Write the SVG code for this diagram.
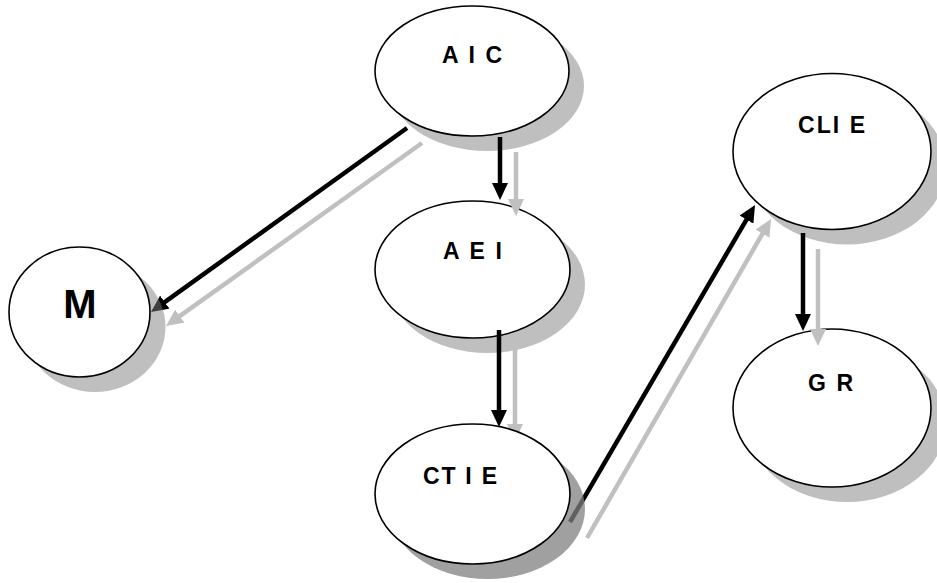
<svg xmlns="http://www.w3.org/2000/svg" width="937" height="583" viewBox="0 0 937 583">
<style>
.sh{fill:#808080;fill-opacity:0.5}
.sh2{fill:#808080;fill-opacity:0.75}
.nd{fill:#fff;stroke:#000;stroke-width:1.6}
.lb{font-family:"Liberation Sans",Arial,sans-serif;font-weight:bold;font-size:23px;fill:#000}
.big{font-size:40px}
.cb{stroke:#000;stroke-width:4.5;fill:none;marker-end:url(#hb)}
.cg{stroke:#c0c0c0;stroke-width:4.5;fill:none;marker-end:url(#hg)}
</style>
<defs>
<marker id="hb" markerUnits="userSpaceOnUse" viewBox="0 0 17 16" markerWidth="17" markerHeight="16" refX="7" refY="8" orient="auto"><path d="M0,0 L17,8 L0,16 Z" fill="#000"/></marker>
<marker id="hg" markerUnits="userSpaceOnUse" viewBox="0 0 17 16" markerWidth="17" markerHeight="16" refX="7" refY="8" orient="auto"><path d="M0,0 L17,8 L0,16 Z" fill="#c0c0c0"/></marker>
</defs>
<rect width="937" height="583" fill="#fff"/>
<g id="AIC">
<ellipse class="sh" cx="487" cy="86" rx="97" ry="65"/>
<ellipse class="nd" cx="472" cy="71" rx="97" ry="65"/>
<text class="lb" x="442" y="63" textLength="60" lengthAdjust="spacing">A I C</text>
</g>
<g id="AEI">
<ellipse class="sh" cx="487.5" cy="284.5" rx="97.5" ry="68.5"/>
<ellipse class="nd" cx="472.5" cy="269.5" rx="97.5" ry="68.5"/>
<text class="lb" x="443" y="259" textLength="59" lengthAdjust="spacing">A E I</text>
</g>
<g id="CLIE">
<ellipse class="sh" cx="847" cy="166.5" rx="99" ry="78"/>
<ellipse class="nd" cx="832" cy="151.5" rx="99" ry="78"/>
<text class="lb" x="798" y="133" textLength="67" lengthAdjust="spacing">CLI E</text>
</g>
<g id="GR">
<ellipse class="sh" cx="847" cy="423" rx="99" ry="79"/>
<ellipse class="nd" cx="832" cy="408" rx="99" ry="79"/>
<text class="lb" x="808" y="391" textLength="45" lengthAdjust="spacing">G R</text>
</g>
<g id="connectors">
<line class="cg" x1="422" y1="143" x2="174.1" y2="320.2"/>
<line class="cb" x1="407" y1="128" x2="159.1" y2="306.2"/>
<line class="cg" x1="516" y1="152" x2="516" y2="206"/>
<line class="cb" x1="500" y1="137" x2="500" y2="190"/>
<line class="cg" x1="515" y1="346" x2="515" y2="431"/>
<line class="cb" x1="499" y1="330" x2="499" y2="417"/>
<line class="cg" x1="587" y1="538" x2="766" y2="227.6"/>
<line class="cb" x1="570" y1="522" x2="750" y2="213.6"/>
<line class="cg" x1="818" y1="249" x2="818" y2="336"/>
<line class="cb" x1="803" y1="233" x2="803" y2="321"/>
</g>
<g id="M">
<ellipse class="sh" cx="95" cy="327" rx="70.5" ry="65"/>
<ellipse class="nd" cx="79.5" cy="312" rx="70.5" ry="65"/>
<text class="lb big" x="80" y="318" text-anchor="middle">M</text>
</g>
<g id="CTIE">
<ellipse class="sh2" cx="487.5" cy="509" rx="97.5" ry="70"/>
<ellipse class="nd" cx="472.5" cy="494" rx="97.5" ry="70"/>
<text class="lb" x="423" y="484" textLength="74" lengthAdjust="spacing">CT I E</text>
</g>
</svg>
